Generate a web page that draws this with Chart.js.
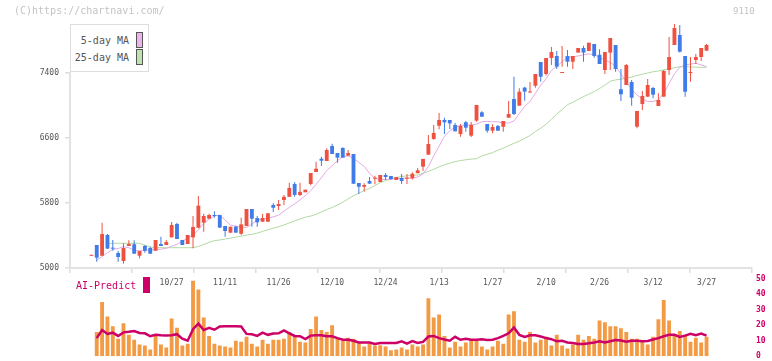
<!DOCTYPE html>
<html>
<head>
<meta charset="utf-8">
<script src="https://cdn.jsdelivr.net/npm/chart.js@4/dist/chart.umd.min.js"></script>
<style>
  body { margin: 0; background: #fff; width: 772px; height: 361px; overflow: hidden; position: relative; font-family: "DejaVu Sans Mono", monospace; }
  canvas { position: absolute; left: 0; }
  #main { top: 0; }
  #sub { top: 270px; }
  .txt { position: absolute; white-space: pre; line-height: 1; }
  #legend { position: absolute; left: 70px; top: 24px; width: 77px; height: 46px; border: 1px solid #ddd; background: #fff; }
  .sw { position: absolute; width: 5px; height: 14px; border: 1px solid #555; }
</style>
</head>
<body>
<canvas id="main" width="772" height="300"></canvas>
<canvas id="sub" width="772" height="95"></canvas>

<div class="txt" style="left:14px;top:6px;color:#c4c4c4;font-size:10px">(C)https://chartnavi.com/</div>
<div class="txt" style="left:733px;top:7px;color:#c4c4c4;font-size:9px">9110</div>
<div id="legend">
  <div class="txt" style="right:19px;top:11px;color:#555;font-size:10px">5-day MA</div>
  <div class="sw" style="left:65px;top:7px;background:#ebb4eb"></div>
  <div class="txt" style="right:19px;top:28px;color:#555;font-size:10px">25-day MA</div>
  <div class="sw" style="left:65px;top:24px;background:#bfe3b0"></div>
</div>
<div class="txt" style="left:76px;top:281px;color:#cc0066;font-size:10px">AI-Predict</div>
<div style="position:absolute;left:143px;top:277px;width:7px;height:16px;background:#cc0066"></div>

<script>
// daily candles, oldest first
const open = [5150,5283,5151,5406,5243,5185,5086,5271,5292,5151, 5271,5246,5213,5295,5283,5377,5541,5345,5295,5377,
  5496,5558,5607,5652,5652,5517,5435,5508,5422,5517, 5726,5615,5570,5570,5775,5763,5837,5876,6034,5898,
  5932,6034,6182,6345,6317,6502,6415,6477,6382,6403, 6046,6000,6071,6100,6058,6145,6132,6083,6108,6100,
  6104,6167,6247,6395,6588,6751,6822,6822,6760,6649, 6794,6629,6814,6916,6772,6690,6748,6739,6850,7080,
  6998,7220,7160,7244,7535,7388,7585,7609,7630,7609, 7539,7651,7708,7671,7757,7625,7437,7651,7745,7200,
  7252,7289,6739,7018,7109,7215,6994,7109,7437,7745, 7868,7609,7456,7560,7597,7675];
const high = [5156,5283,5558,5418,5345,5213,5304,5341,5341,5209, 5283,5262,5345,5385,5345,5566,5558,5345,5406,5640,
  5886,5668,5668,5700,5652,5517,5508,5520,5620,5726, 5726,5640,5665,5673,5796,5837,5898,6048,6058,6050,
  5964,6169,6308,6370,6473,6530,6415,6485,6452,6403, 6046,6042,6120,6136,6145,6169,6132,6120,6157,6157,
  6180,6230,6343,6637,6760,6908,6850,6822,6785,6772, 6809,6797,7006,6930,6772,6768,6760,6809,7055,7355,
  7212,7232,7289,7388,7535,7585,7720,7671,7732,7683, 7609,7708,7736,7773,7757,7691,7658,7831,7745,7449,
  7510,7314,6932,7178,7326,7232,7150,7437,7843,8003, 7991,7609,7597,7634,7708,7757];
const low = [5150,5078,5151,5238,5213,5078,5053,5271,5176,5119, 5188,5176,5213,5271,5283,5377,5357,5283,5295,5242,
  5490,5447,5607,5620,5496,5385,5435,5435,5406,5517, 5508,5508,5570,5570,5689,5714,5775,5876,5877,5886,
  5932,6020,6182,6255,6317,6403,6296,6358,6382,6037, 5911,5939,6038,6030,6058,6083,6083,6083,6034,6034,
  6090,6167,6194,6395,6580,6707,6649,6711,6682,6616, 6678,6612,6800,6862,6665,6658,6690,6678,6850,6883,
  6998,7060,7160,7220,7293,7370,7498,7449,7478,7478, 7449,7651,7539,7671,7588,7511,7388,7437,7416,7055,
  7252,6998,6719,6945,7109,7088,6994,7109,7375,7745, 7651,7109,7293,7511,7548,7675];
const close = [5156,5127,5418,5238,5238,5135,5246,5295,5176,5209, 5213,5176,5345,5271,5320,5529,5357,5283,5406,5505,
  5767,5640,5652,5640,5496,5455,5508,5435,5537,5726, 5607,5562,5615,5673,5742,5788,5876,5986,5900,5937,
  5964,6169,6222,6320,6452,6403,6358,6358,6415,6037, 6000,6022,6038,6106,6145,6120,6095,6120,6071,6106,
  6160,6202,6343,6526,6662,6822,6793,6780,6682,6748, 6727,6760,7006,6862,6690,6735,6690,6809,6895,6895,
  7170,7171,7166,7388,7354,7585,7658,7478,7637,7539, 7609,7708,7651,7773,7609,7511,7658,7831,7449,7138,
  7498,7096,6932,7117,7252,7133,7068,7425,7597,7954, 7662,7170,7462,7597,7708,7745];

// moving averages as drawn
const ma5 = [null,5095,5140,5188,5230,5240,5262,5250,5215,5212, 5218,5222,5225,5232,5242,5268,5292,5330,5370,5406,
  5470,5550,5600,5640,5652,5590,5529,5515,5500,5500, 5540,5591,5600,5615,5630,5650,5700,5745,5790,5837,
  5890,5950,6030,6110,6200,6260,6320,6370,6380,6350, 6300,6250,6165,6104,6090,6090,6095,6100,6104,6104,
  6106,6120,6160,6250,6380,6500,6620,6690,6730,6755, 6760,6760,6770,6800,6805,6800,6800,6785,6785,6810,
  6900,6990,7050,7150,7250,7330,7430,7480,7540,7590, 7600,7610,7625,7635,7625,7590,7560,7530,7480,7390,
  7290,7200,7130,7080,7050,7050,7068,7150,7270,7390, 7470,7500,7510,7520,7500,7478];
const ma25 = [null,null,null,5304,5304,5304,5304,5304,5304,5304, 5280,5260,5250,5250,5250,5250,5250,5250,5250,5250,
  5265,5290,5315,5336,5345,5357,5368,5380,5392,5405, 5415,5430,5450,5470,5490,5508,5530,5555,5580,5603,
  5625,5640,5660,5690,5720,5745,5775,5810,5850,5890, 5920,5955,5980,6015,6050,6075,6095,6115,6125,6135,
  6140,6145,6165,6190,6215,6245,6270,6290,6310,6322, 6332,6340,6345,6380,6400,6420,6450,6475,6505,6535,
  6560,6596,6630,6680,6720,6770,6830,6895,6950,7010, 7040,7075,7110,7140,7170,7210,7250,7300,7315,7325,
  7335,7350,7370,7385,7400,7415,7425,7440,7450,7465, 7478,7478,7475,7472,7470,7470];

// lower panel
const volume = [null,15.6,35,25.6,19.4,11.3,21.3,13.8,10.6,7.5, 6.9,4.4,13.8,7.5,5.6,24.4,18.3,6.9,8.1,48.8,
  43.1,25,13.1,8.1,6.9,6.3,5.6,10,9.4,12.5, 8.1,6.3,10.6,8.1,10.6,10.6,11.3,15.6,13.1,9.4,
  8.8,17.5,25.6,16.9,15.6,20,11.3,10,11.9,11.3, 8.8,6.3,8.1,6.9,7,6.3,3.8,4.4,5.6,4.4,
  7.5,6.3,7.5,37.5,25,26.9,13.1,5.6,9.4,6.3, 8.8,10.6,10.6,6.3,4.4,6.3,10,8,27,29,
  10.6,9.4,15.6,8.8,10.6,12.5,6.9,13.8,6.9,5, 7.5,13.8,10.6,13.1,11.3,23.1,21.9,19.4,19.4,18.1,
  15.6,11.3,11.3,9.4,7.5,12.5,23.8,36.3,23.1,14.4, 16.3,13.8,9.4,11.9,8.8,12.5];
const aiPredict = [null,11.7,16.9,14.4,15.2,13.1,15.4,15.8,16.3,15, 14.8,12.9,13.8,13.5,13.3,13.5,14.2,11.3,10,17.5,
  21,16.9,18.3,17.1,19.2,19.4,19.4,19.4,19.2,14.4, 14.2,13.1,15.2,13.8,14.6,14.8,16.7,14.8,13.1,12.9,
  11.1,13.3,13.5,13.5,12.9,12.9,11.7,10.6,10.6,10, 8.9,8.9,8.8,7.9,8.5,8.5,8.5,8.5,9.6,8.1,
  9.8,8.5,9.2,12.7,13.1,11.7,10.8,10,12.5,10.6, 11.3,10.6,10.6,11,10.4,10.6,11.7,13.1,14.8,18.5,
  13.8,12.5,13.5,13.5,12.7,11.7,11,9.6,10,8.9, 8.5,7.9,7.9,8.3,8.9,9.6,8.8,9.6,10.4,10.2,
  9.4,10,10,9.6,9.8,10.8,11.7,12.9,13.8,13.8, 12.5,13.3,14.4,13.5,14.6,13.3];

// date labels (index of the trading day they sit on)
const labelIdx = [15,25,35,45,55,65,75,85,95,105,115];
const labelTxt = ['10/27','11/11','11/26','12/10','12/24','1/13','1/27','2/10','2/26','3/12','3/27'];
const priceTicks = [5000,5800,6600,7400];
const volTicks = [0,10,20,30,40,50];

const FONT = '"DejaVu Sans Mono", monospace';
const RED = '#ef5140', BLUE = '#3f7be9';
const X_MIN = -4, X_MAX = 123.5;

const idx = close.map((c, i) => i);
const colors = idx.map(i => close[i] >= open[i] ? RED : BLUE);
const pts = arr => idx.map(i => ({ x: i, y: arr[i] }));

new Chart(document.getElementById('main'), {
  type: 'bar',
  data: {
    datasets: [
      { type: 'line', label: '5-day MA', data: pts(ma5), borderColor: '#e3aae3', borderWidth: 1,
        pointRadius: 0, order: 3, clip: false },
      { type: 'line', label: '25-day MA', data: pts(ma25), borderColor: '#b2d9a2', borderWidth: 1,
        pointRadius: 0, order: 4, clip: false },
      { label: 'wick', data: idx.map(i => ({ x: i, y: [low[i], high[i]] })), backgroundColor: colors,
        maxBarThickness: 1, grouped: false, minBarLength: 1, order: 2, clip: false },
      { label: 'body', data: idx.map(i => ({ x: i, y: [open[i], close[i]] })), backgroundColor: colors,
        maxBarThickness: 4, grouped: false, minBarLength: 1, order: 1, clip: false }
    ]
  },
  options: {
    responsive: false, animation: false, devicePixelRatio: 1,
    layout: { padding: { top: 73, right: 20, left: 0, bottom: 0 } },
    plugins: { legend: { display: false }, tooltip: { enabled: false } },
    scales: {
      x: {
        type: 'linear', min: X_MIN, max: X_MAX, weight: 1, offset: false,
        afterBuildTicks: s => { s.ticks = Array.from({ length: 12 }, (_, k) => ({ value: X_MIN + k * (X_MAX - X_MIN) / 11 })); },
        ticks: { display: false },
        grid: { drawOnChartArea: false, offset: false, tickLength: 5, color: '#ddd', lineWidth: 1.5 },
        border: { color: '#e2e2e2', width: 2 },
        afterFit: s => { s.height = 5; }
      },
      x2: {
        type: 'linear', position: 'bottom', min: X_MIN, max: X_MAX, weight: 2, offset: false,
        afterBuildTicks: s => { s.ticks = labelIdx.map(v => ({ value: v })); },
        ticks: { callback: (v, i) => labelTxt[i], color: '#555', font: { family: FONT, size: 8 },
          padding: 5, maxRotation: 0, autoSkip: false },
        grid: { display: false, drawTicks: false, offset: false },
        border: { display: false },
        afterFit: s => { s.height = 27; }
      },
      y: {
        position: 'left', min: 5000, max: 7400,
        afterBuildTicks: s => { s.ticks = priceTicks.map(v => ({ value: v })); },
        ticks: { callback: v => String(v), color: '#555', font: { family: FONT, size: 8 }, padding: 6 },
        grid: { drawOnChartArea: false, tickLength: 5, color: '#ddd', lineWidth: 1.5 },
        border: { color: '#e2e2e2', width: 2 },
        afterFit: s => { s.width = 70; }
      }
    }
  }
});

new Chart(document.getElementById('sub'), {
  type: 'bar',
  data: {
    datasets: [
      { type: 'line', data: idx.filter(i => aiPredict[i] != null).map(i => ({ x: i, y: aiPredict[i] })),
        borderColor: '#cc0066', borderWidth: 2.5, pointRadius: 0, order: 1 },
      { data: idx.filter(i => volume[i] != null).map(i => ({ x: i, y: volume[i] })),
        backgroundColor: '#f39a45', maxBarThickness: 4, grouped: false, order: 2 }
    ]
  },
  options: {
    responsive: false, animation: false, devicePixelRatio: 1,
    layout: { padding: { left: 70, top: 7, bottom: 8, right: 0 } },
    plugins: { legend: { display: false }, tooltip: { enabled: false } },
    scales: {
      x: { type: 'linear', min: X_MIN, max: X_MAX, display: false, offset: false, grid: { offset: false } },
      y: {
        position: 'right', min: 0, max: 50,
        afterBuildTicks: s => { s.ticks = volTicks.map(v => ({ value: v })); },
        ticks: { color: '#cc0066', font: { family: FONT, size: 8, weight: 'bold' }, padding: 4 },
        grid: { display: false, drawTicks: false },
        border: { display: false },
        afterFit: s => { s.width = 20; }
      }
    }
  }
});
</script>
</body>
</html>
